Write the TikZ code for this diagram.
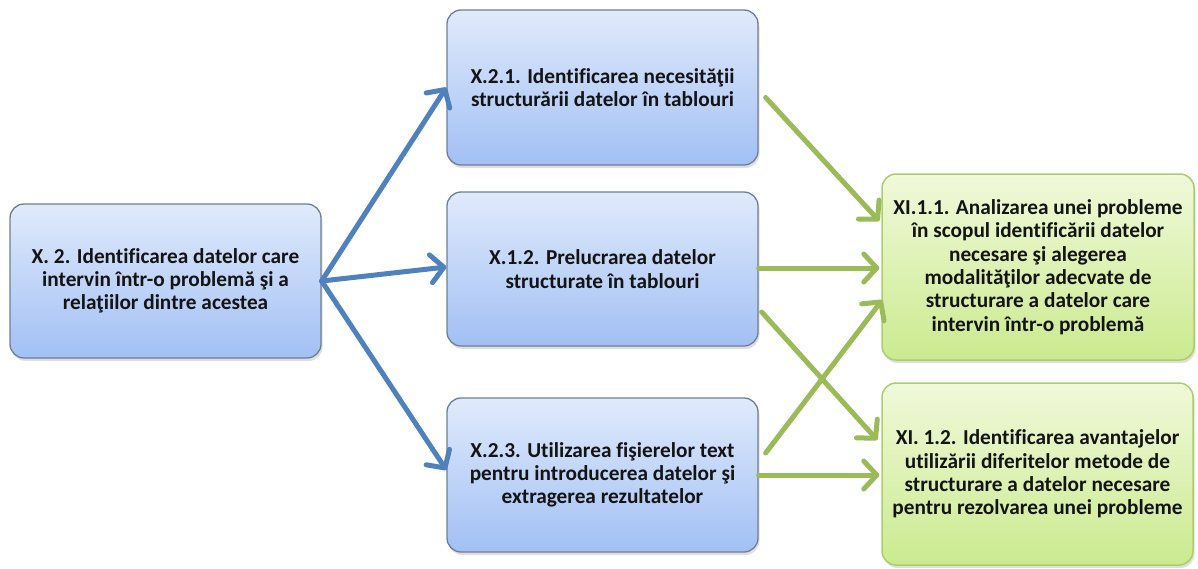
\documentclass[tikz,border=0pt]{standalone}
\usepackage{fontspec}
\setmainfont{Carlito}[Ligatures=NoCommon]
\usetikzlibrary{arrows.meta,shadows}
\definecolor{blueline}{HTML}{4F81BD}
\definecolor{greenline}{HTML}{9BBB59}
\definecolor{bluetop}{HTML}{E0EAFC}
\definecolor{bluebot}{HTML}{A2C0F4}
\definecolor{blueborder}{HTML}{6E7E94}
\definecolor{greentop}{HTML}{F0F9DA}
\definecolor{greenbot}{HTML}{CBEA8F}
\definecolor{greenborder}{HTML}{A9CF6B}
\definecolor{txt}{HTML}{141414}
\tikzset{
  boxbase/.style={rounded corners=14pt, align=center, text=txt,
    font=\fontsize{21.3}{23.3}\selectfont\bfseries,
    drop shadow={opacity=0.25, shadow xshift=1.5pt, shadow yshift=-3pt}},
  bluebox/.style={boxbase, draw=blueborder, line width=1.3pt,
    top color=bluetop, bottom color=bluebot},
  greenbox/.style={boxbase, draw=greenborder, line width=1.5pt,
    top color=greentop, bottom color=greenbot},
  bluearrow/.style={draw=blueline, line width=5pt, line cap=round,
    -{Straight Barb[length=13pt,width=28pt,round]}},
  greenarrow/.style={draw=greenline, line width=5pt, line cap=round,
    -{Straight Barb[length=13pt,width=28pt,round]}}
}
\begin{document}
\begin{tikzpicture}[x=1pt,y=-1pt]
\useasboundingbox (0,0) rectangle (1198,568);
\node[bluebox, minimum width=311pt, minimum height=154pt] (A) at (165.5,281)
  {X. 2. Identificarea datelor care\\intervin într-o problemă şi a\\relaţiilor dintre acestea};
\node[bluebox, minimum width=311pt, minimum height=155pt] (B) at (602.5,87.5)
  {X.2.1. Identificarea necesităţii\\structurării datelor în tablouri};
\node[bluebox, minimum width=311pt, minimum height=154pt] (C) at (602.5,269)
  {X.1.2. Prelucrarea datelor\\structurate în tablouri};
\node[bluebox, minimum width=311pt, minimum height=154pt] (D) at (602.5,475)
  {X.2.3. Utilizarea fişierelor text\\pentru introducerea datelor şi\\extragerea rezultatelor};
\node[greenbox, minimum width=312pt, minimum height=186pt] (E) at (1038,267)
  {XI.1.1. Analizarea unei probleme\\în scopul identificării datelor\\necesare şi alegerea\\modalităţilor adecvate de\\structurare a datelor care\\intervin într-o problemă};
\node[greenbox, minimum width=311pt, minimum height=182pt] (F) at (1037.5,474)
  {XI. 1.2. Identificarea avantajelor\\utilizării diferitelor metode de\\structurare a datelor necesare\\pentru rezolvarea unei probleme};

\draw[bluearrow] (A.east) -- (B.west);
\draw[bluearrow] (A.east) -- ([yshift=2pt]C.west);
\draw[bluearrow] (A.east) -- ([yshift=5pt]D.west);

\draw[greenarrow] ([xshift=7pt,yshift=-10pt]B.east) -- ([xshift=-2pt,yshift=46pt]E.west);
\draw[greenarrow] ([yshift=1pt]C.east) -- ([xshift=-2pt,yshift=-1pt]E.west);
\draw[greenarrow] ([xshift=3pt,yshift=-43pt]C.east) -- ([xshift=-4pt,yshift=34pt]F.west);
\draw[greenarrow] ([xshift=7pt,yshift=22pt]D.east) -- ([xshift=1pt,yshift=-33pt]E.west);
\draw[greenarrow] (D.east) -- ([xshift=-2pt,yshift=-1pt]F.west);
\end{tikzpicture}
\end{document}
